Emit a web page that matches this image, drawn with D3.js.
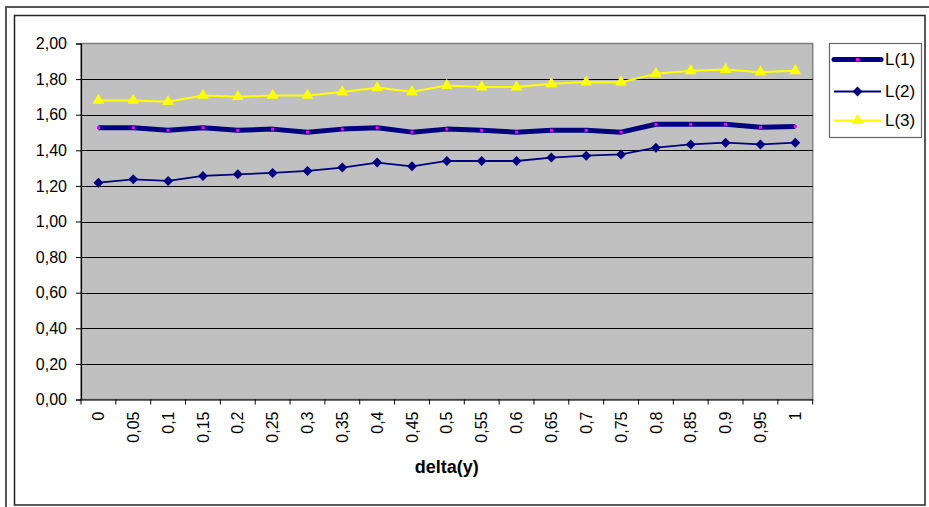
<!DOCTYPE html>
<html>
<head>
<meta charset="utf-8">
<script src="https://cdn.jsdelivr.net/npm/d3@7/dist/d3.min.js"></script>
<style>
  html, body { margin: 0; padding: 0; background: #fff; }
  svg { display: block; font-family: "Liberation Sans", Arial, sans-serif; }
</style>
</head>
<body>
<svg id="chart" width="929" height="507"></svg>
<script>
const categories = ["0","0,05","0,1","0,15","0,2","0,25","0,3","0,35","0,4","0,45","0,5","0,55","0,6","0,65","0,7","0,75","0,8","0,85","0,9","0,95","1"];
const L1 = [1.527,1.527,1.512,1.527,1.512,1.519,1.502,1.519,1.527,1.502,1.519,1.512,1.502,1.512,1.512,1.502,1.546,1.546,1.546,1.529,1.534];
const L2 = [1.218,1.237,1.228,1.256,1.265,1.273,1.284,1.303,1.331,1.310,1.340,1.340,1.340,1.359,1.370,1.377,1.415,1.433,1.443,1.433,1.443];
const L3 = [1.680,1.680,1.673,1.708,1.701,1.708,1.708,1.727,1.751,1.729,1.764,1.755,1.755,1.774,1.783,1.783,1.830,1.847,1.854,1.839,1.847];
const yTicks = [0,0.2,0.4,0.6,0.8,1.0,1.2,1.4,1.6,1.8,2.0];
const seriesNames = ["L(1)","L(2)","L(3)"];
const xTitle = "delta(y)";

const svg = d3.select("#chart");
const fmt = v => v.toFixed(2).replace(".", ",");

// frames
svg.append("rect").attr("x",6).attr("y",7).attr("width",940).attr("height",520)
  .attr("fill","none").attr("stroke","#555").attr("stroke-width",2);
svg.append("rect").attr("x",14.5).attr("y",15.5).attr("width",910.5).attr("height",489.5)
  .attr("fill","#fff").attr("stroke","#222").attr("stroke-width",1.5);

const L = 81, R = 812.7, T = 43.5, B = 399.5;
const x = d3.scaleBand().domain(categories).range([L, R]).padding(0);
const y = d3.scaleLinear().domain([0, 2]).range([B, T]);
const cx = c => x(c) + x.bandwidth() / 2;

// plot bg
svg.append("rect").attr("x",L).attr("y",T).attr("width",R-L).attr("height",B-T)
  .attr("fill","#c0c0c0").attr("stroke","#808080").attr("stroke-width",1.5);

// gridlines
svg.append("g").selectAll("line").data(yTicks.filter(v => v > 0 && v < 2)).join("line")
  .attr("x1",L).attr("x2",R).attr("y1",d => Math.round(y(d))+0.5).attr("y2",d => Math.round(y(d))+0.5)
  .attr("stroke","#000").attr("stroke-width",1);

// y axis
const yAxis = d3.axisLeft(y).tickValues(yTicks).tickFormat(fmt).tickSize(5).tickPadding(9);
const gy = svg.append("g").attr("transform",`translate(${L},0)`).call(yAxis);
gy.select(".domain").attr("stroke","#000").attr("stroke-width",1.2);
gy.selectAll(".tick line").attr("stroke","#000");
gy.selectAll("text").attr("font-size",16).attr("fill","#000").attr("font-family","Liberation Sans, Arial, sans-serif");

// x axis
const xAxis = d3.axisBottom(x).tickSize(0).tickPadding(0);
const gx = svg.append("g").attr("transform",`translate(0,${B})`).call(xAxis);
gx.select(".domain").attr("stroke","#000").attr("stroke-width",1.2);
gx.selectAll(".tick text")
  .attr("font-size",16).attr("fill","#000").attr("font-family","Liberation Sans, Arial, sans-serif")
  .attr("text-anchor","end").attr("transform","rotate(-90)")
  .attr("x",-12).attr("y",0).attr("dy","0.35em");
// boundary ticks
const bounds = categories.map(c => x(c)).concat([R]);
gx.append("g").selectAll("line").data(bounds).join("line")
  .attr("x1",d => d).attr("x2",d => d).attr("y1",0).attr("y2",5).attr("stroke","#000");

// title
svg.append("text").attr("x",(L+R)/2).attr("y",473).attr("text-anchor","middle")
  .attr("font-size",18).attr("font-weight","bold").attr("fill","#000").text(xTitle);

const line = d3.line().x((d,i) => cx(categories[i])).y(d => y(d));
const diamond = d3.symbol().type(d3.symbolDiamond2 || d3.symbolSquare2).size(70);
const tri = d3.symbol().type(d3.symbolTriangle).size(60);

// L3
svg.append("path").datum(L3).attr("d",line).attr("fill","none").attr("stroke","#ffff00").attr("stroke-width",2);
svg.append("g").selectAll("path").data(L3).join("path")
  .attr("transform",(d,i) => `translate(${cx(categories[i])},${y(d)})`)
  .attr("d",tri).attr("fill","#ffff00");

// L1
svg.append("path").datum(L1).attr("d",line).attr("fill","none").attr("stroke","#000080").attr("stroke-width",5).attr("stroke-linejoin","round");
svg.append("g").selectAll("rect").data(L1).join("rect")
  .attr("x",(d,i) => cx(categories[i]) - 1.5).attr("y",d => y(d) - 1.5)
  .attr("width",3).attr("height",3).attr("fill","#ff00ff");

// L2
svg.append("path").datum(L2).attr("d",line).attr("fill","none").attr("stroke","#000080").attr("stroke-width",1.8);
svg.append("g").selectAll("path").data(L2).join("path")
  .attr("transform",(d,i) => `translate(${cx(categories[i])},${y(d)}) rotate(45)`)
  .attr("d",d3.symbol().type(d3.symbolSquare).size(50)).attr("fill","#000080");

// legend
const lg = svg.append("g");
lg.append("rect").attr("x",829.5).attr("y",43.5).attr("width",92).attr("height",94)
  .attr("fill","#fff").attr("stroke","#666").attr("stroke-width",1.2);
const ly = [59.5, 91.5, 120.5];
// L1 legend
lg.append("line").attr("x1",834).attr("x2",881).attr("y1",ly[0]).attr("y2",ly[0])
  .attr("stroke","#000080").attr("stroke-width",5).attr("stroke-linecap","round");
lg.append("rect").attr("x",856).attr("y",ly[0]-1.5).attr("width",3).attr("height",3).attr("fill","#ff00ff");
// L2 legend
lg.append("line").attr("x1",834).attr("x2",881).attr("y1",ly[1]).attr("y2",ly[1])
  .attr("stroke","#000080").attr("stroke-width",1.8);
lg.append("path").attr("transform",`translate(857.5,${ly[1]}) rotate(45)`)
  .attr("d",d3.symbol().type(d3.symbolSquare).size(50)).attr("fill","#000080");
// L3 legend
lg.append("line").attr("x1",834).attr("x2",881).attr("y1",ly[2]).attr("y2",ly[2])
  .attr("stroke","#ffff00").attr("stroke-width",2);
lg.append("path").attr("transform",`translate(857.5,${ly[2]})`).attr("d",tri).attr("fill","#ffff00");
lg.selectAll("text.lt").data(seriesNames).join("text").attr("class","lt")
  .attr("x",885).attr("y",(d,i) => ly[i]).attr("dy","0.35em")
  .attr("font-size",17).attr("fill","#000").text(d => d);
</script>
</body>
</html>
